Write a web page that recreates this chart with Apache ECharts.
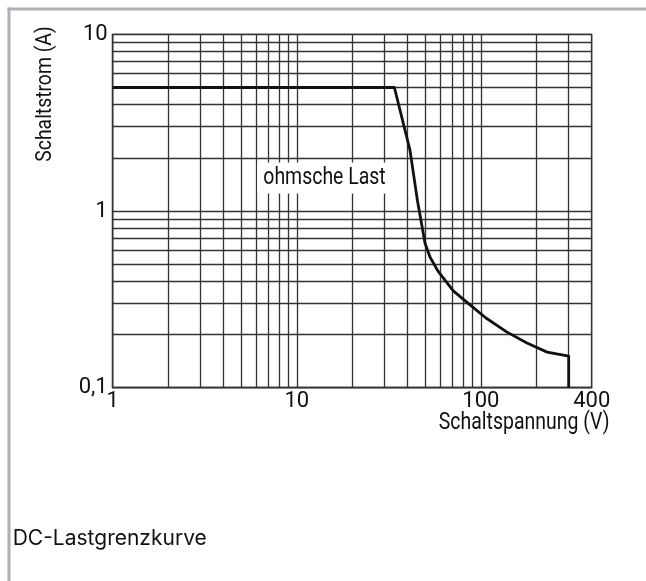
<!DOCTYPE html>
<html>
<head>
<meta charset="utf-8">
<script src="https://cdn.jsdelivr.net/npm/echarts@6/dist/echarts.min.js"></script>
<style>
html,body{margin:0;padding:0;background:#fff;}
#c{width:646px;height:581px;}
</style>
</head>
<body>
<div id="c"></div>
<script>
// Data
const voltage = [1, 33.9, 41.2, 45.2, 49.7, 52.9, 58.5, 70.8, 87.3, 106.6, 138, 178, 229, 300, 300];
const current = [5, 5, 2.21, 1.15, 0.659, 0.549, 0.457, 0.353, 0.294, 0.248, 0.207, 0.179, 0.159, 0.151, 0.1];
const xGridValues = [2, 3, 4, 5, 6, 7, 8, 9, 20, 30, 40, 50, 60, 70, 80, 90, 200, 300];
const yGridValues = [0.2, 0.3, 0.4, 0.5, 0.6, 0.7, 0.8, 0.9, 2, 3, 4, 5, 6, 7, 8, 9];
const xRange = [1, 400];
const yRange = [0.1, 10];
const xAxisName = 'Schaltspannung (V)';
const yAxisName = 'Schaltstrom (A)';
const annotation = 'ohmsche Last';
const caption = 'DC-Lastgrenzkurve';

const FONT = 'Roboto, "Liberation Sans", sans-serif';
const gridColor = '#333';

const chart = echarts.init(document.getElementById('c'), null, {renderer: 'canvas'});

const curve = voltage.map((v, i) => [v, current[i]]);
const gridLines = xGridValues.map(v => ({xAxis: v})).concat(yGridValues.map(v => ({yAxis: v})));

const option = {
  animation: false,
  backgroundColor: '#fff',
  grid: {
    left: 112.7, right: 54.3, top: 34.3, bottom: 193.3,
    show: true, borderColor: gridColor, borderWidth: 1.3, backgroundColor: 'transparent'
  },
  xAxis: {
    type: 'log', logBase: 10, min: xRange[0], max: xRange[1],
    axisLine: {show: true, lineStyle: {color: gridColor, width: 1.3}},
    axisTick: {show: false},
    splitLine: {show: true, lineStyle: {color: gridColor, width: 1.3}},
    axisLabel: {
      show: true, margin: 3, color: '#111', fontFamily: FONT, fontSize: 22,
      showMinLabel: true, showMaxLabel: true,
      formatter: v => String(v).replace('.', ',')
    }
  },
  yAxis: {
    type: 'log', logBase: 10, min: yRange[0], max: yRange[1],
    axisLine: {show: true, lineStyle: {color: gridColor, width: 1.3}},
    axisTick: {show: false},
    splitLine: {show: true, lineStyle: {color: gridColor, width: 1.3}},
    axisLabel: {
      show: true, margin: 5, color: '#111', fontFamily: FONT, fontSize: 22,
      showMinLabel: true, showMaxLabel: true,
      formatter: v => String(v).replace('.', ',')
    }
  },
  series: [{
    type: 'line',
    z: 3,
    data: curve,
    symbol: 'none',
    lineStyle: {color: '#111', width: 2.8, join: 'round', cap: 'butt'},
    markLine: {
      z: 1,
      silent: true,
      symbol: ['none', 'none'],
      label: {show: false},
      lineStyle: {color: gridColor, width: 1.3, type: 'solid'},
      emphasis: {disabled: true},
      data: gridLines
    }
  }],
  graphic: [
    {type: 'rect', z: 200, shape: {x: 7.5, y: 7.5, width: 640, height: 3}, style: {fill: '#aeb0b6'}},
    {type: 'rect', z: 200, shape: {x: 7.5, y: 7.5, width: 3, height: 580}, style: {fill: '#aeb0b6'}},
    {type: 'text', z: 200, x: 45.5, y: 94, rotation: Math.PI / 2, scaleX: 0.88,
      style: {text: yAxisName, font: '22px ' + FONT, fill: '#111', align: 'center', verticalAlign: 'middle'}},
    {type: 'text', z: 200, x: 609.5, y: 423.5, scaleX: 0.847,
      style: {text: xAxisName, font: '23px ' + FONT, fill: '#111', align: 'right', verticalAlign: 'middle'}},
    {type: 'text', z: 200, x: 324.5, y: 178, scaleX: 0.846,
      style: {text: annotation, font: '23px ' + FONT, fill: '#111', align: 'center', verticalAlign: 'middle',
        backgroundColor: '#fff', padding: [4, 7, 4, 7]}},
    {type: 'text', z: 200, x: 12.7, y: 539,
      style: {text: caption, font: '21px Inter, "Liberation Sans", sans-serif', fill: '#111', align: 'left', verticalAlign: 'middle'}}
  ]
};
chart.setOption(option);
</script>
</body>
</html>
